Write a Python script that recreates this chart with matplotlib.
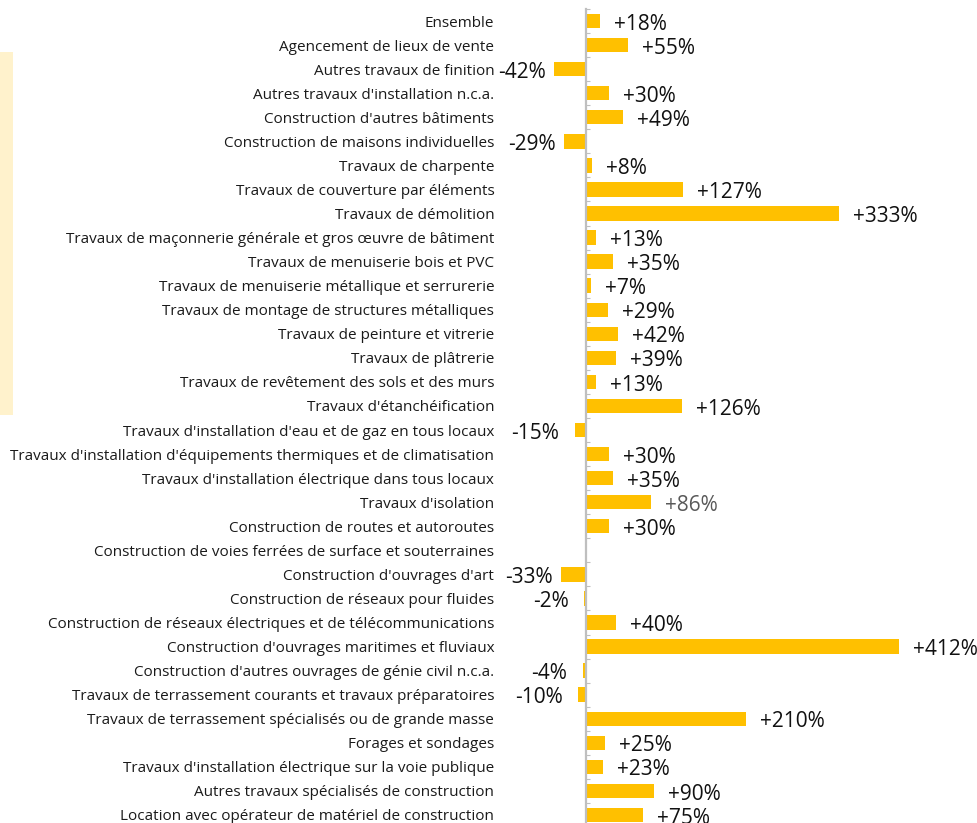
import numpy as np
import matplotlib
matplotlib.use("Agg")
import matplotlib.pyplot as plt
from matplotlib.patches import Rectangle

plt.rcParams['font.family'] = ['Open Sans', 'DejaVu Sans']

categories = [
    "Ensemble",
    "Agencement de lieux de vente",
    "Autres travaux de finition",
    "Autres travaux d'installation n.c.a.",
    "Construction d'autres bâtiments",
    "Construction de maisons individuelles",
    "Travaux de charpente",
    "Travaux de couverture par éléments",
    "Travaux de démolition",
    "Travaux de maçonnerie générale et gros œuvre de bâtiment",
    "Travaux de menuiserie bois et PVC",
    "Travaux de menuiserie métallique et serrurerie",
    "Travaux de montage de structures métalliques",
    "Travaux de peinture et vitrerie",
    "Travaux de plâtrerie",
    "Travaux de revêtement des sols et des murs",
    "Travaux d'étanchéification",
    "Travaux d'installation d'eau et de gaz en tous locaux",
    "Travaux d'installation d'équipements thermiques et de climatisation",
    "Travaux d'installation électrique dans tous locaux",
    "Travaux d'isolation",
    "Construction de routes et autoroutes",
    "Construction de voies ferrées de surface et souterraines",
    "Construction d'ouvrages d'art",
    "Construction de réseaux pour fluides",
    "Construction de réseaux électriques et de télécommunications",
    "Construction d'ouvrages maritimes et fluviaux",
    "Construction d'autres ouvrages de génie civil n.c.a.",
    "Travaux de terrassement courants et travaux préparatoires",
    "Travaux de terrassement spécialisés ou de grande masse",
    "Forages et sondages",
    "Travaux d'installation électrique sur la voie publique",
    "Autres travaux spécialisés de construction",
    "Location avec opérateur de matériel de construction",
]

# Percentage change per activity (None = no data)
variation_pct = [
    18, 55, -42, 30, 49, -29, 8, 127, 333, 13, 35, 7, 29, 42, 39, 13, 126,
    -15, 30, 35, 86, 30, None, -33, -2, 40, 412, -4, -10, 210, 25, 23, 90, 75,
]

# Labels rendered in a muted grey instead of black
grey_labels = ["Travaux d'isolation"]

W, H, DPI = 978, 823, 100
fig = plt.figure(figsize=(W / DPI, H / DPI), dpi=DPI)

# Thin cream band on the left edge
fig.patches.append(Rectangle((0, 1 - 415 / H), 13 / W, (415 - 52) / H,
                             transform=fig.transFigure, facecolor='#FFF2CC',
                             edgecolor='none', zorder=0))

x_min, x_max = -110, 420
px_per_unit = 0.76
left_px = 586 + x_min * px_per_unit
width_px = (x_max - x_min) * px_per_unit
top_px, bottom_px = 9, 827
ax = fig.add_axes([left_px / W, 1 - bottom_px / H, width_px / W,
                   (bottom_px - top_px) / H])

y = np.arange(len(categories))
vals = np.array([np.nan if v is None else v for v in variation_pct], dtype=float)
ax.barh(y, np.nan_to_num(vals), height=0.6, color='#FFC000', zorder=2)

ax.set_xlim(x_min, x_max)
ax.set_ylim(len(categories) - 0.5, -0.5)

for s in ['top', 'right', 'bottom']:
    ax.spines[s].set_visible(False)
ax.spines['left'].set_position(('data', 0))
ax.spines['left'].set_color('#BFBFBF')
ax.spines['left'].set_linewidth(1.6)
ax.spines['left'].set_zorder(3)

ax.set_xticks([])
ax.set_yticks(y)
ax.set_yticklabels(categories, fontsize=11, color='#1a1a1a')
ax.set_yticks(np.arange(-0.5, len(categories), 1.0), minor=True)
ax.tick_params(axis='y', which='major', length=0, pad=66)
ax.tick_params(axis='y', which='minor', direction='in', length=3,
               width=0.8, color='#BFBFBF')

px = 1 / px_per_unit
for cat, yi, v in zip(categories, y, vals):
    if np.isnan(v):
        continue
    color = '#595959' if cat in grey_labels else '#111111'
    text = f"{int(v):+d}%"
    if v >= 0:
        ax.text(v + 14 * px, yi + 0.13, text, ha='left', va='center',
                fontsize=15, color=color, clip_on=False)
    else:
        gap = 8 if v < -20 else 16
        ax.text(v - gap * px, yi + 0.13, text, ha='right', va='center',
                fontsize=15, color=color, clip_on=False)

fig.savefig('out.png', dpi=DPI)
